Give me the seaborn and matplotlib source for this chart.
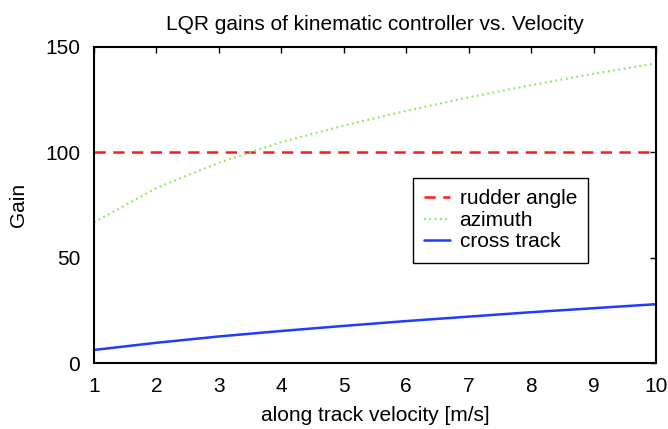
import matplotlib
matplotlib.use("Agg")
import matplotlib.pyplot as plt
import seaborn as sns
import pandas as pd

# along-track velocity [m/s]
velocity = [1, 2, 3, 4, 5, 6, 7, 8, 9, 10]
# LQR gains per velocity
rudder_angle = [100, 100, 100, 100, 100, 100, 100, 100, 100, 100]
azimuth = [66.7, 83.0, 95.0, 104.8, 112.6, 119.6, 126.0, 131.8, 137.2, 142.1]
cross_track = [6.2, 9.6, 12.6, 15.2, 17.6, 19.9, 22.0, 24.1, 26.0, 27.9]

x_ticks = [1, 2, 3, 4, 5, 6, 7, 8, 9, 10]
y_ticks = [0, 50, 100, 150]

sns.set_style("white")
plt.rcParams["font.family"] = ["Liberation Sans", "DejaVu Sans"]
plt.rcParams["text.color"] = "black"
plt.rcParams["axes.labelcolor"] = "black"

FS = 15

fig = plt.figure(figsize=(6.68, 4.29), dpi=100)
ax = fig.add_axes([0.1407, 0.1538, 0.8413, 0.7372])

df = pd.DataFrame({
    "v": velocity,
    "rudder": rudder_angle,
    "azimuth": azimuth,
    "cross": cross_track,
})

sns.lineplot(data=df, x="v", y="rudder", ax=ax, color="#ff1a1a", lw=1.8,
             linestyle=(0, (4.5, 3.0)), label="rudder angle")
sns.lineplot(data=df, x="v", y="azimuth", ax=ax, color="#8ee85a", lw=1.6,
             linestyle=(0, (0.8, 1.6)), label="azimuth")
sns.lineplot(data=df, x="v", y="cross", ax=ax, color="#1f3cff", lw=1.8,
             linestyle="-", label="cross track")

ax.set_xlim(1, 10)
ax.set_ylim(0, 150)
ax.set_xticks(x_ticks)
ax.set_yticks(y_ticks)
ax.tick_params(direction="in", length=4, width=1, top=True, right=True,
               labelsize=FS, colors="black")
ax.tick_params(axis="x", pad=10)
ax.tick_params(axis="y", pad=10)
for s in ax.spines.values():
    s.set_visible(True)
    s.set_color("black")
    s.set_linewidth(1.5)

ax.set_title("LQR gains of kinematic controller vs. Velocity", fontsize=FS, pad=12)
ax.set_xlabel("along track velocity [m/s]", fontsize=FS, labelpad=7)
ax.set_ylabel("Gain", fontsize=FS, labelpad=12)

leg = ax.legend(loc="upper left", bbox_to_anchor=(0.567, 0.585), fontsize=FS,
                frameon=True, fancybox=False, framealpha=1, edgecolor="black",
                borderpad=0.55, labelspacing=0.12, handlelength=1.25,
                handletextpad=0.45, borderaxespad=0)
leg.get_frame().set_linewidth(1.0)

fig.savefig("out.png", dpi=100)
